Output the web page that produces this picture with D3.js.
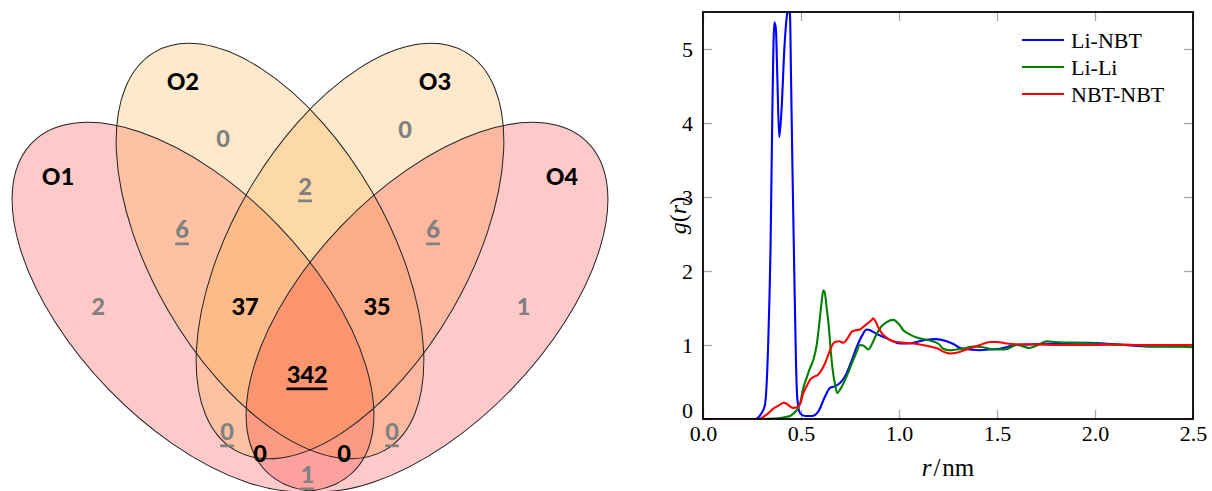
<!DOCTYPE html>
<html>
<head>
<meta charset="utf-8">
<script src="https://cdn.jsdelivr.net/npm/d3@7"></script>
<style>
  body { margin: 0; background: #fff; }
  .serif { font-family: "Liberation Serif", "Times New Roman", Times, serif; }
</style>
</head>
<body>
<div id="chart"></div>
<script>
// ---- venn data ----
var setNames = ["O1", "O2", "O3", "O4"];
var regionKeys = ["1", "2", "3", "4", "12", "34", "23", "13", "24", "14", "123", "234", "134", "124", "1234"];
var regionCounts = [2, 0, 0, 1, 6, 6, 2, 0, 0, 1, 37, 35, 0, 0, 342];

// ---- g(r) data ----
var seriesNames = ["Li-NBT", "Li-Li", "NBT-NBT"];
var rLiNBT = [0, 0.27, 0.282, 0.299, 0.316, 0.333, 0.345, 0.354, 0.364, 0.372, 0.379, 0.389, 0.401, 0.415, 0.428, 0.437, 0.444, 0.449, 0.457, 0.466, 0.474, 0.481, 0.495, 0.52, 0.555, 0.588, 0.622, 0.648, 0.68, 0.71, 0.733, 0.76, 0.784, 0.81, 0.835, 0.86, 0.886, 0.91, 0.937, 0.97, 1.005, 1.05, 1.09, 1.14, 1.19, 1.243, 1.28, 1.311, 1.36, 1.413, 1.46, 1.515, 1.56, 1.6, 1.7, 1.8, 1.9, 1.97, 2.05, 2.15, 2.28, 2.4, 2.5];
var gLiNBT = [0, 0, 0.02, 0.08, 0.19, 1.05, 2.39, 4.19, 5.36, 5.27, 4.64, 3.81, 4.19, 5.0, 5.45, 5.58, 5.45, 4.64, 3.29, 1.94, 0.82, 0.28, 0.08, 0.04, 0.04, 0.1, 0.3, 0.42, 0.45, 0.52, 0.62, 0.8, 0.97, 1.12, 1.21, 1.19, 1.15, 1.12, 1.09, 1.05, 1.02, 1.02, 1.04, 1.07, 1.08, 1.05, 1.01, 0.96, 0.94, 0.93, 0.94, 0.95, 0.98, 1.0, 1.01, 1.02, 1.03, 1.03, 1.02, 1.0, 0.98, 0.98, 1.0];
var rLiLi = [0, 0.3, 0.36, 0.41, 0.427, 0.444, 0.46, 0.478, 0.495, 0.51, 0.529, 0.545, 0.563, 0.58, 0.597, 0.606, 0.614, 0.622, 0.631, 0.64, 0.656, 0.665, 0.675, 0.685, 0.7, 0.716, 0.74, 0.759, 0.78, 0.801, 0.82, 0.843, 0.865, 0.886, 0.91, 0.937, 0.971, 1.0, 1.022, 1.05, 1.09, 1.158, 1.2, 1.226, 1.26, 1.294, 1.34, 1.379, 1.43, 1.48, 1.54, 1.6, 1.667, 1.7, 1.753, 1.8, 1.9, 2.0, 2.11, 2.2, 2.28, 2.38, 2.5];
var gLiLi = [0, 0, 0.005, 0.02, 0.03, 0.04, 0.07, 0.12, 0.21, 0.4, 0.56, 0.68, 0.8, 1.0, 1.38, 1.6, 1.74, 1.7, 1.5, 1.3, 0.8, 0.6, 0.45, 0.35, 0.4, 0.48, 0.62, 0.75, 0.88, 1.0, 0.99, 0.94, 1.03, 1.15, 1.25, 1.31, 1.34, 1.28, 1.2, 1.15, 1.1, 1.06, 1.02, 0.95, 0.93, 0.94, 0.96, 0.98, 0.97, 0.94, 0.94, 1.0, 0.96, 0.99, 1.05, 1.04, 1.03, 1.02, 1.0, 1.0, 0.98, 0.98, 0.97];
var rNBT = [0, 0.29, 0.308, 0.33, 0.359, 0.385, 0.41, 0.425, 0.444, 0.46, 0.478, 0.495, 0.512, 0.53, 0.546, 0.565, 0.588, 0.605, 0.622, 0.635, 0.648, 0.66, 0.673, 0.695, 0.716, 0.74, 0.759, 0.78, 0.801, 0.82, 0.843, 0.858, 0.869, 0.88, 0.894, 0.915, 0.937, 0.96, 0.988, 1.03, 1.073, 1.12, 1.158, 1.2, 1.226, 1.26, 1.3, 1.345, 1.38, 1.413, 1.464, 1.5, 1.549, 1.6, 1.7, 1.8, 1.9, 2.0, 2.1, 2.2, 2.3, 2.4, 2.5];
var gNBT = [0, 0, 0.03, 0.07, 0.14, 0.18, 0.22, 0.21, 0.17, 0.15, 0.16, 0.2, 0.35, 0.45, 0.53, 0.57, 0.6, 0.66, 0.75, 0.84, 0.93, 1.0, 1.04, 1.05, 1.03, 1.1, 1.18, 1.2, 1.21, 1.25, 1.3, 1.33, 1.36, 1.32, 1.24, 1.15, 1.1, 1.06, 1.04, 1.03, 1.02, 1.0, 0.98, 0.95, 0.91, 0.885, 0.9, 0.94, 0.97, 1.0, 1.04, 1.04, 1.02, 1.01, 1.01, 1.0, 1.0, 1.0, 1.01, 1.0, 1.0, 1.0, 1.0];
var xTicks = [0, 0.5, 1.0, 1.5, 2.0, 2.5];
var yTicks = [0, 1, 2, 3, 4, 5];

var svg = d3.select("#chart")
    .append("svg")
    .attr("width", 1212)
    .attr("height", 491);

// ================= venn (left) =================
// layout: coordinates relative to the symmetry axis
var vx = d3.scaleLinear().domain([-310, 310]).range([0, 620]);
var vy = d3.scaleLinear().domain([0, 491]).range([0, 491]);

var ellipseLayout = [
    { cx: -117, cy: 307, rx: 230, ry: 118, rot: 46, fill: "rgb(249,31,31)", op: 0.24 },
    { cx: -40, cy: 251, rx: 230, ry: 118, rot: 60, fill: "rgb(251,174,68)", op: 0.27 },
    { cx: 40, cy: 251, rx: 230, ry: 118, rot: -60, fill: "rgb(251,174,68)", op: 0.27 },
    { cx: 117, cy: 307, rx: 230, ry: 118, rot: -46, fill: "rgb(249,31,31)", op: 0.24 }
];
var setLabelPos = [[-252, 175], [-127, 80], [125, 80], [252, 175]];
var regionPos = {
    "1": [-212, 305], "2": [-87, 137], "3": [95, 128], "4": [213, 305],
    "12": [-128, 228], "34": [123, 228], "23": [-5, 185],
    "13": [-83, 430], "24": [82, 430], "14": [-3, 473],
    "123": [-65, 305], "234": [67, 305], "134": [-50, 452], "124": [34, 452],
    "1234": [-3, 373]
};

var venn = svg.append("g").attr("class", "venn");

venn.selectAll("ellipse.fill")
    .data(ellipseLayout)
    .enter()
    .append("ellipse")
    .attr("class", "fill")
    .attr("transform", function (d) { return "translate(" + vx(d.cx) + "," + vy(d.cy) + ") rotate(" + d.rot + ")"; })
    .attr("rx", function (d) { return vx(d.rx) - vx(0); })
    .attr("ry", function (d) { return vy(d.ry) - vy(0); })
    .attr("fill", function (d) { return d.fill; })
    .attr("fill-opacity", function (d) { return d.op; })
    .attr("stroke", "none");

venn.selectAll("ellipse.edge")
    .data(ellipseLayout)
    .enter()
    .append("ellipse")
    .attr("class", "edge")
    .attr("transform", function (d) { return "translate(" + vx(d.cx) + "," + vy(d.cy) + ") rotate(" + d.rot + ")"; })
    .attr("rx", function (d) { return vx(d.rx) - vx(0); })
    .attr("ry", function (d) { return vy(d.ry) - vy(0); })
    .attr("fill", "none")
    .attr("stroke", "#222")
    .attr("stroke-width", 1);

var vennFont = "Carlito, Lato, 'Open Sans', sans-serif";

venn.selectAll("text.setname")
    .data(setNames)
    .enter()
    .append("text")
    .attr("class", "setname")
    .attr("x", function (d, i) { return vx(setLabelPos[i][0]); })
    .attr("y", function (d, i) { return vy(setLabelPos[i][1]); })
    .attr("text-anchor", "middle")
    .attr("dominant-baseline", "central")
    .attr("font-family", vennFont)
    .attr("font-weight", "bold")
    .attr("font-size", 27)
    .attr("fill", "#000")
    .text(function (d) { return d; });

venn.selectAll("text.count")
    .data(regionKeys)
    .enter()
    .append("text")
    .attr("class", "count")
    .attr("x", function (d) { return vx(regionPos[d][0]); })
    .attr("y", function (d) { return vy(regionPos[d][1]); })
    .attr("text-anchor", "middle")
    .attr("dominant-baseline", "central")
    .attr("font-family", vennFont)
    .attr("font-weight", "bold")
    .attr("font-size", 27)
    .attr("fill", function (d) { return d.length >= 3 ? "#000" : "#808080"; })
    .style("text-decoration", function (d) { return (d.length == 2 || d.length == 4) ? "underline" : "none"; })
    .text(function (d, i) { return regionCounts[i]; });

// ================= g(r) chart (right) =================
var plotL = 703, plotR = 1193, plotT = 12, plotB = 419;

var x = d3.scaleLinear().domain([0, 2.5]).range([plotL, plotR]);
var y = d3.scaleLinear().domain([0, 5.5]).range([plotB, plotT]);

var chart = svg.append("g").attr("class", "rdf");

chart.append("clipPath")
    .attr("id", "plotclip")
    .append("rect")
    .attr("x", plotL).attr("y", plotT)
    .attr("width", plotR - plotL).attr("height", plotB - plotT);

// ticks on all four sides, pointing inward
function styleAxis(g) {
    g.attr("font-family", null).attr("font-size", null).attr("class", "serif");
    g.select(".domain").remove();
    g.selectAll(".tick line").attr("stroke", "#a8a8a8").attr("stroke-width", 1.3);
    g.selectAll(".tick text").attr("font-size", 22).attr("fill", "#000");
}
chart.append("g")
    .attr("transform", "translate(0," + plotB + ")")
    .call(d3.axisBottom(x).tickValues(xTicks).tickSizeInner(-9).tickSizeOuter(0).tickPadding(6).tickFormat(d3.format(".1f")))
    .call(styleAxis);
chart.append("g")
    .attr("transform", "translate(0," + plotT + ")")
    .call(d3.axisTop(x).tickValues(xTicks).tickSizeInner(-9).tickSizeOuter(0).tickFormat(""))
    .call(styleAxis);
var yAxisG = chart.append("g")
    .attr("transform", "translate(" + plotL + ",0)")
    .call(d3.axisLeft(y).tickValues(yTicks).tickSizeInner(-9).tickSizeOuter(0).tickPadding(10).tickFormat(d3.format("d")))
    .call(styleAxis);
// lift the "0" a little so it clears the x labels
yAxisG.selectAll(".tick text").filter(function (d) { return d === 0; }).attr("dy", "-0.05em");
chart.append("g")
    .attr("transform", "translate(" + plotR + ",0)")
    .call(d3.axisRight(y).tickValues(yTicks).tickSizeInner(-9).tickSizeOuter(0).tickFormat(""))
    .call(styleAxis);

// curves
var seriesR = [rLiNBT, rLiLi, rNBT];
var seriesG = [gLiNBT, gLiLi, gNBT];
var seriesColor = ["#0000ff", "#008000", "#ff0000"];

var lineGen = d3.line()
    .x(function (d) { return x(d[0]); })
    .y(function (d) { return y(d[1]); })
    .curve(d3.curveMonotoneX);

chart.append("g")
    .attr("clip-path", "url(#plotclip)")
    .selectAll("path")
    .data(seriesNames)
    .enter()
    .append("path")
    .attr("d", function (d, i) { return lineGen(seriesR[i].map(function (r, j) { return [r, seriesG[i][j]]; })); })
    .attr("fill", "none")
    .attr("stroke", function (d, i) { return seriesColor[i]; })
    .attr("stroke-width", 2.1)
    .attr("stroke-linejoin", "round");

// frame
chart.append("rect")
    .attr("x", plotL).attr("y", plotT)
    .attr("width", plotR - plotL).attr("height", plotB - plotT)
    .attr("fill", "none")
    .attr("stroke", "#000")
    .attr("stroke-width", 1.8);

// legend
var legend = chart.append("g")
    .selectAll("g")
    .data(seriesNames)
    .enter()
    .append("g")
    .attr("transform", function (d, i) { return "translate(1022," + (40 + i * 27) + ")"; });
legend.append("line")
    .attr("x1", 0).attr("x2", 42)
    .attr("stroke", function (d, i) { return seriesColor[i]; })
    .attr("stroke-width", 2.1);
legend.append("text")
    .attr("class", "serif")
    .attr("x", 49)
    .attr("dominant-baseline", "central")
    .attr("font-size", 22)
    .text(function (d) { return d; });

// axis labels
var xl = chart.append("text")
    .attr("class", "serif")
    .attr("x", (plotL + plotR) / 2)
    .attr("y", 476)
    .attr("text-anchor", "middle")
    .attr("font-size", 25);
xl.append("tspan").attr("font-style", "italic").text("r");
xl.append("tspan").attr("dx", 2).text("/");
xl.append("tspan").attr("dx", 2).text("nm");

var yl = chart.append("text")
    .attr("class", "serif")
    .attr("transform", "translate(686," + ((plotT + plotB) / 2) + ") rotate(-90)")
    .attr("text-anchor", "middle")
    .attr("font-size", 24);
yl.append("tspan").attr("font-style", "italic").text("g");
yl.append("tspan").text("(");
yl.append("tspan").attr("font-style", "italic").text("r");
yl.append("tspan").text(")");
</script>
</body>
</html>
